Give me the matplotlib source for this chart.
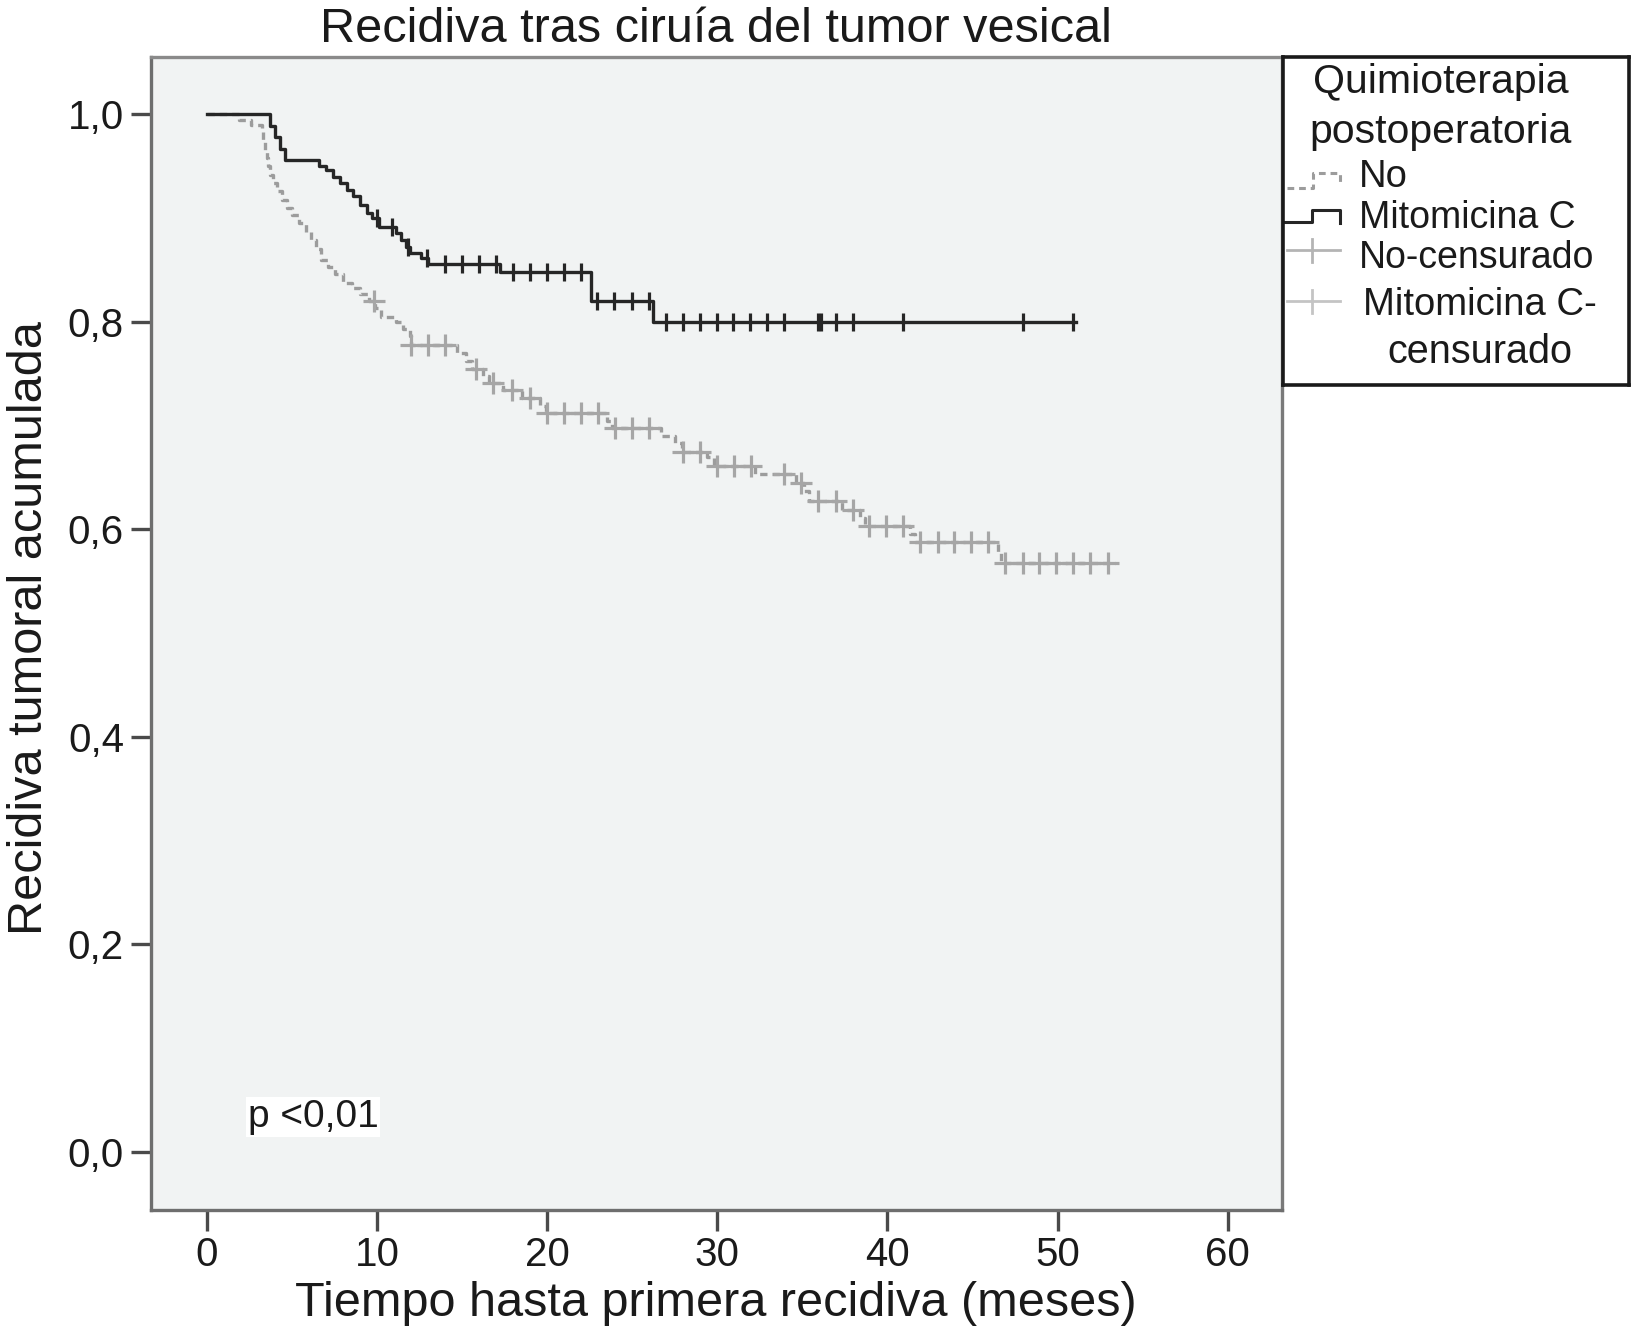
"""
Kaplan-Meier style chart: recidiva tras cirugia del tumor vesical.
"""
import numpy as np
import matplotlib
matplotlib.use("Agg")
import matplotlib.pyplot as plt

plt.rcParams['font.family'] = ['Liberation Sans', 'DejaVu Sans']

# --- data -------------------------------------------------------------------
# "No" group (grey, dashed): step times and value after each step
no_times = [0, 1.9, 2.6, 3.2, 3.3, 3.4, 3.5, 3.6, 3.7, 3.9, 4.1, 4.4, 4.7,
            5.0, 5.4, 5.8, 6.1, 6.4, 6.7, 7.1, 7.5, 8.0, 8.5, 9.0, 9.5, 9.9,
            10.2, 11.1, 11.5, 11.9, 12.0, 14.7, 15.2, 15.6, 16.2, 16.6, 17.4,
            18.5, 19.6, 19.9, 23.5, 23.8, 26.7, 27.5, 27.9, 29.4, 29.8, 32.2,
            34.6, 35.1, 35.4, 37.3, 38.4, 38.7, 41.3, 41.6, 46.5, 46.7]
no_surv = [1.0, 0.995, 0.990, 0.983, 0.975, 0.966, 0.958, 0.950, 0.942, 0.934,
           0.926, 0.918, 0.910, 0.903, 0.895, 0.887, 0.879, 0.870, 0.860,
           0.853, 0.846, 0.838, 0.833, 0.827, 0.820, 0.813, 0.805, 0.800,
           0.793, 0.786, 0.778, 0.770, 0.762, 0.755, 0.748, 0.741, 0.734,
           0.727, 0.719, 0.712, 0.705, 0.698, 0.690, 0.683, 0.675, 0.670,
           0.661, 0.653, 0.645, 0.637, 0.627, 0.619, 0.611, 0.6035, 0.596,
           0.5875, 0.578, 0.568]
no_end = 53.4
no_censored = [9.8, 12.0, 13.0, 14.0, 15.8, 16.8, 17.9, 19.0, 20.0, 21.0, 22.0,
               23.0, 24.0, 25.0, 26.0, 28.0, 29.0, 30.0, 31.0, 32.0, 33.9,
               34.9, 35.9, 37.0, 38.0, 38.9, 39.9, 40.9, 41.9, 43.0, 43.9,
               44.9, 45.9, 46.9, 48.0, 48.9, 49.9, 50.9, 51.9, 52.95]

# "Mitomicina C" group (black, solid)
mito_times = [0, 3.7, 4.0, 4.3, 4.6, 6.6, 7.0, 7.4, 7.8, 8.2, 8.6, 9.0, 9.4,
              9.7, 10.1, 11.1, 11.4, 11.7, 11.95, 12.6, 13.0, 17.2, 22.6, 26.2]
mito_surv = [1.0, 0.989, 0.978, 0.967, 0.956, 0.950, 0.946, 0.940, 0.934,
             0.927, 0.921, 0.913, 0.905, 0.900, 0.892, 0.886, 0.879, 0.872,
             0.866, 0.862, 0.856, 0.848, 0.820, 0.800]
mito_end = 51.1
mito_censored = [10.0, 10.85, 11.8, 12.9, 14.0, 15.0, 16.0, 17.0, 18.0, 19.0,
                 20.0, 21.0, 22.0, 22.9, 23.9, 25.0, 26.0, 27.0, 28.0, 29.0,
                 30.0, 30.9, 31.9, 32.9, 33.9, 35.9, 36.1, 37.0, 38.0, 40.9,
                 48.0, 50.9]

x_ticks = [0, 10, 20, 30, 40, 50, 60]
y_ticks = [0.0, 0.2, 0.4, 0.6, 0.8, 1.0]
y_ticklabels = ['0,0', '0,2', '0,4', '0,6', '0,8', '1,0']

# --- styling -----------------------------------------------------------------
W, H = 1632, 1331
BLACK = '#262626'
GREY = '#9c9c9c'
GREY_MARK = '#a6a6a6'
FRAME = '#6e6e6e'


def value_at(times, surv, t):
    idx = np.searchsorted(times, t, side='right') - 1
    return np.asarray(surv)[idx]


fig = plt.figure(figsize=(W / 100, H / 100), dpi=100)
fig.patch.set_facecolor('white')

# axes box in pixels: left 151, right 1282, top 57, bottom 1210
ax = fig.add_axes([151 / W, (H - 1210) / H, (1282 - 151) / W, (1210 - 57) / H])
ax.set_facecolor('#f1f3f3')

# curves
ax.step(no_times + [no_end], no_surv + [no_surv[-1]], where='post',
        color=GREY, lw=2.4, linestyle=(0, (2.2, 1.5)), zorder=3)
ax.step(mito_times + [mito_end], mito_surv + [mito_surv[-1]], where='post',
        color=BLACK, lw=2.4, zorder=4)

# censor marks
ax.plot(no_censored, value_at(no_times, no_surv, no_censored), linestyle='none',
        marker='+', markersize=16, mew=2.3, color=GREY_MARK, zorder=3)
ax.plot(mito_censored, value_at(mito_times, mito_surv, mito_censored),
        linestyle='none', marker='|', markersize=13, mew=2.3, color=BLACK,
        zorder=5)

ax.set_xlim(-3.3, 63.2)
ax.set_ylim(-0.056, 1.0554)
ax.set_xticks(x_ticks)
ax.set_xticklabels([str(v) for v in x_ticks])
ax.set_yticks(y_ticks)
ax.set_yticklabels(y_ticklabels)
ax.tick_params(axis='both', labelsize=29, color='#4a4a4a', width=2.4,
               labelcolor='#1a1a1a')
ax.tick_params(axis='x', length=15, pad=4)
ax.tick_params(axis='y', length=14.5, pad=5)

for side, sp in ax.spines.items():
    sp.set_color(FRAME)
    sp.set_linewidth(2.4)
ax.spines['top'].set_color('#8a8a8a')
ax.spines['right'].set_color('#7a7a7a')

# p-value annotation
ax.text(2.4, 0.024, 'p <0,01', fontsize=28, color='#1a1a1a', ha='left',
        va='baseline', zorder=6,
        bbox=dict(facecolor='white', edgecolor='none', pad=1.0))

# titles
fig.text(716 / W, 1 - 42 / H, 'Recidiva tras ciruía del tumor vesical',
         fontsize=35, ha='center', va='baseline', color='#1a1a1a')
fig.text(716 / W, 1 - 1316 / H, 'Tiempo hasta primera recidiva (meses)',
         fontsize=35, ha='center', va='baseline', color='#1a1a1a')
fig.text(30 / W, 1 - 628 / H, 'Recidiva tumoral acumulada', fontsize=35,
         rotation=90, ha='center', va='center', color='#1a1a1a')

# legend drawn in its own pixel-coordinate axes
lx0, lx1, ly0, ly1 = 1283, 1629, 57, 385
lg = fig.add_axes([lx0 / W, (H - ly1) / H, (lx1 - lx0) / W, (ly1 - ly0) / H])
lg.set_xlim(lx0, lx1)
lg.set_ylim(ly1, ly0)
lg.set_xticks([])
lg.set_yticks([])
lg.set_facecolor('white')
for sp in lg.spines.values():
    sp.set_color('#1a1a1a')
    sp.set_linewidth(2.6)

lg.plot([1287, 1313, 1313, 1340, 1340], [188, 188, 173, 173, 186],
        color=GREY, lw=2.2, linestyle=(0, (2.2, 1.6)))
lg.plot([1283, 1312, 1312, 1340, 1340], [222, 222, 210, 210, 223],
        color=BLACK, lw=2.2)
lg.plot([1287, 1340], [250, 250], color='#b4b4b4', lw=2)
lg.plot([1312, 1312], [239, 262], color='#b4b4b4', lw=2)
lg.plot([1287, 1340], [301, 301], color='#c4c4c4', lw=2)
lg.plot([1312, 1312], [290, 313], color='#c4c4c4', lw=2)

legend_text = [
    (1313, 93, 'Quimioterapia', 29.5),
    (1309, 143, 'postoperatoria', 29.5),
    (1359, 187, 'No', 27.5),
    (1359, 228, 'Mitomicina C', 27),
    (1359, 268, 'No-censurado', 27),
    (1363, 315, 'Mitomicina C-', 27.5),
    (1387, 363, 'censurado', 28.5),
]
for tx, ty, s, fs in legend_text:
    lg.text(tx, ty, s, fontsize=fs, ha='left', va='baseline', color='#1a1a1a')

fig.savefig('out.png', dpi=100, facecolor='white')
